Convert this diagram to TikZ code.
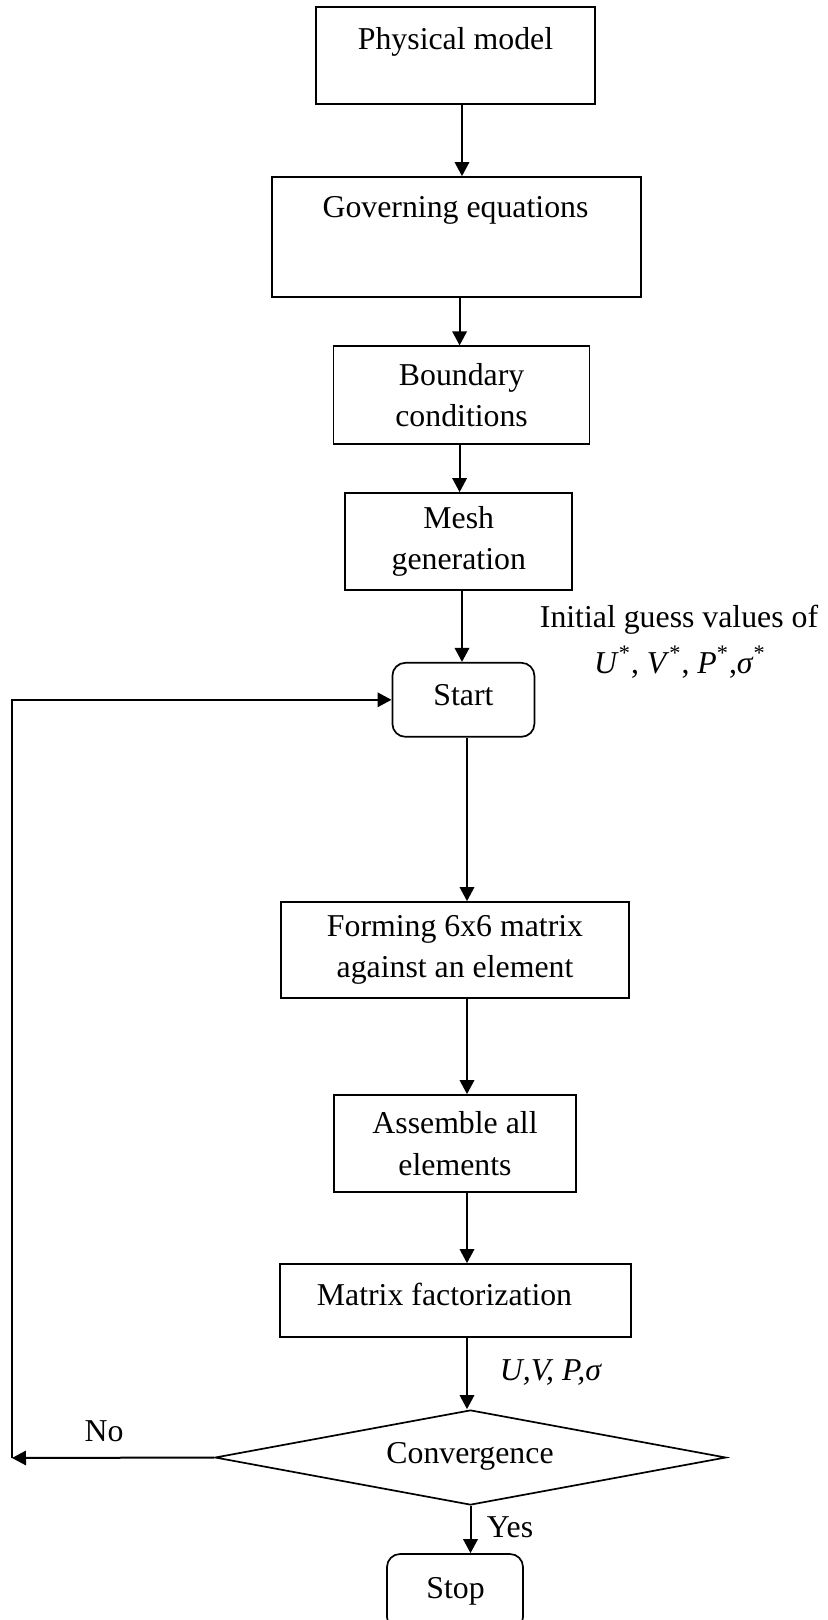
\documentclass[tikz,border=0pt]{standalone}
\usepackage{fontspec}
\setmainfont{Liberation Serif}
\usetikzlibrary{shapes.geometric,arrows.meta}
\begin{document}
\begin{tikzpicture}[x=0.5pt,y=-0.5pt,
  every node/.style={font=\fontsize{15.9}{20.75}\selectfont},
  box/.style={draw,line width=0.85pt,inner sep=0pt},
  rbox/.style={box,rounded corners=6.5pt},
  txt/.style={align=center,inner sep=0pt},
  btxt/.style={txt,anchor=base},
  arr/.style={line width=1pt,-{Triangle[length=7pt,width=7.2pt]}},
  ln/.style={line width=1pt}]
\useasboundingbox (0,0) rectangle (827,1620);
% boxes
\node[box,minimum width=139.5pt,minimum height=48.5pt] (phys) at (455.5,55.5) {};
\node[btxt] (physt) at (455.5,50) {Physical model};
\node[box,minimum width=184.5pt,minimum height=60pt] (gov) at (456.5,237) {};
\node[btxt] (govt) at (455.5,218) {Governing equations};
\node[box,txt,minimum width=128pt,minimum height=48.75pt] (bound) at (461.6,395) {Boundary\\conditions};
\node[box,txt,minimum width=113.5pt,minimum height=48.5pt] (mesh) at (458.8,541.5) {Mesh\\generation};
\node[rbox,minimum width=71pt,minimum height=37pt] (start) at (463.4,699.8) {};
\node[btxt] (startt) at (463.4,705) {Start};
\node[box,txt,minimum width=174pt,minimum height=48pt] (form) at (455,950) {Forming 6x6 matrix\\against an element};
\node[box,txt,minimum width=121pt,minimum height=48.5pt] (asm) at (455,1143.5) {Assemble all\\elements};
\node[box,minimum width=175.5pt,minimum height=36.5pt] (mat) at (455.5,1300.5) {};
\node[btxt] (matt) at (444.5,1305) {Matrix factorization};
\node[draw,line width=0.85pt,diamond,inner sep=0pt,minimum width=255.5pt,minimum height=47.5pt] (conv) at (470.5,1457.5) {};
\node[btxt] (convt) at (470,1463) {Convergence};
\node[rbox,minimum width=68pt,minimum height=38pt] (stop) at (455,1592) {};
\node[btxt] (stopt) at (455.5,1598) {Stop};
% labels
\node[btxt] (ig1) at (679,627.5) {Initial guess values of};
\node[btxt] (ig2) at (680,673) {\textit{U}\textsuperscript{*}, \textit{V}\textsuperscript{*}, \textit{P}\textsuperscript{*},\textit{σ}\textsuperscript{*}};
\node[btxt] (uvp) at (551,1380) {\textit{U,V, P,σ}};
\node[btxt] (yes) at (510,1537) {Yes};
\node[btxt] (no) at (104,1441) {No};
% arrow columns
\coordinate (c1) at (462,0);
\coordinate (c2) at (459.6,0);
\coordinate (c3) at (462,0);
\coordinate (c4) at (467,0);
\coordinate (lx) at (12,1458);
% connectors
\draw[arr] (phys.south -| c1) -- (gov.north -| c1);
\draw[arr] (gov.south -| c2) -- (bound.north -| c2);
\draw[arr] (bound.south -| c2) -- (mesh.north -| c2);
\draw[arr] (mesh.south -| c3) -- (start.north -| c3);
\draw[arr] (start.south -| c4) -- (form.north -| c4);
\draw[arr] (form.south -| c4) -- (asm.north -| c4);
\draw[arr] (asm.south -| c4) -- (mat.north -| c4);
\draw[arr] (mat.south -| c4) -- (conv.north -| c4);
\draw[arr] (conv.south) -- (stop.north -| conv.south);
\draw[arr] (conv.west) -- (lx);
\draw[arr] (lx) |- (start.west);
\end{tikzpicture}
\end{document}
